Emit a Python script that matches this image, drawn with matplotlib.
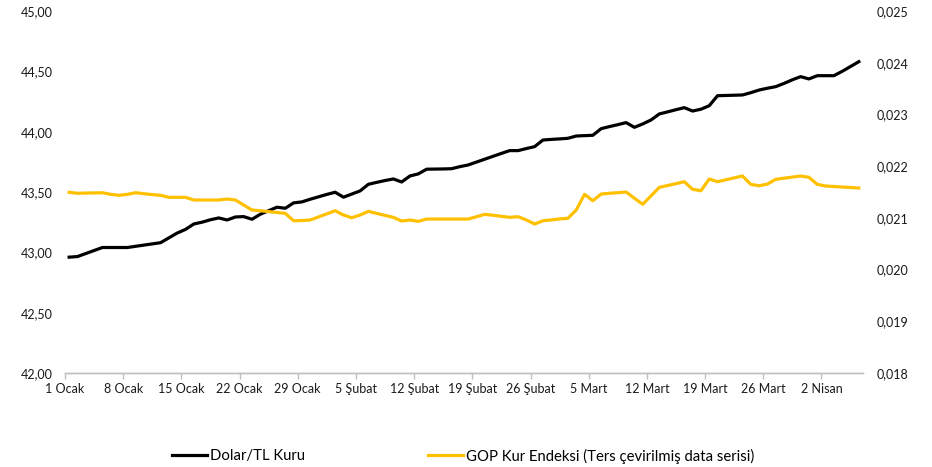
import numpy as np
import pandas as pd
import matplotlib
matplotlib.use("Agg")
import matplotlib.pyplot as plt
import matplotlib.dates as mdates
from matplotlib.ticker import FixedLocator, FuncFormatter

plt.rcParams['font.family'] = ['Lato', 'DejaVu Sans']

start_date = "2026-01-01"
n_days = 96

dolar_tl = [
    42.960, 42.965, 42.990, 43.015, 43.040, 43.040, 43.040, 43.040, 43.050, 43.060,
    43.070, 43.080, 43.120, 43.160, 43.190, 43.235, 43.250, 43.270, 43.285, 43.268,
    43.293, 43.296, 43.274, 43.316, 43.345, 43.374, 43.365, 43.410, 43.418, 43.440,
    43.460, 43.480, 43.498, 43.457, 43.483, 43.509, 43.564, 43.580, 43.595, 43.608,
    43.583, 43.633, 43.650, 43.689, 43.690, 43.691, 43.693, 43.710, 43.724, 43.748,
    43.772, 43.796, 43.820, 43.843, 43.843, 43.860, 43.876, 43.931, 43.936, 43.940,
    43.945, 43.964, 43.967, 43.970, 44.025, 44.042, 44.058, 44.075, 44.036, 44.064,
    44.097, 44.147, 44.164, 44.182, 44.199, 44.171, 44.186, 44.215, 44.298, 44.300,
    44.302, 44.304, 44.323, 44.345, 44.360, 44.373, 44.400, 44.430, 44.456, 44.437,
    44.464, 44.464, 44.464, 44.500, 44.540, 44.580,
]

gop_kur = [
    0.021494, 0.021475, 0.021479, 0.021482, 0.021486, 0.021455, 0.021436, 0.021455, 0.021486, 0.021467,
    0.021450, 0.021436, 0.021397, 0.021397, 0.021397, 0.021345, 0.021345, 0.021345, 0.021345, 0.021364,
    0.021345, 0.021248, 0.021151, 0.021138, 0.021121, 0.021104, 0.021087, 0.020944, 0.020948, 0.020958,
    0.021018, 0.021078, 0.021138, 0.021055, 0.021002, 0.021055, 0.021126, 0.021086, 0.021048, 0.021010,
    0.020939, 0.020958, 0.020933, 0.020977, 0.020977, 0.020977, 0.020977, 0.020977, 0.020977, 0.021022,
    0.021068, 0.021050, 0.021030, 0.021010, 0.021022, 0.020960, 0.020881, 0.020944, 0.020960, 0.020980,
    0.020991, 0.021151, 0.021455, 0.021331, 0.021461, 0.021475, 0.021487, 0.021499, 0.021380, 0.021262,
    0.021426, 0.021590, 0.021626, 0.021662, 0.021699, 0.021552, 0.021525, 0.021751, 0.021699, 0.021736,
    0.021773, 0.021810, 0.021648, 0.021621, 0.021654, 0.021745, 0.021767, 0.021788, 0.021810, 0.021784,
    0.021648, 0.021616, 0.021606, 0.021596, 0.021587, 0.021577,
]

tick_labels = ["1 Ocak", "8 Ocak", "15 Ocak", "22 Ocak", "29 Ocak", "5 Şubat",
               "12 Şubat", "19 Şubat", "26 Şubat", "5 Mart", "12 Mart", "19 Mart",
               "26 Mart", "2 Nisan"]

left_ticks = [42.0, 42.5, 43.0, 43.5, 44.0, 44.5, 45.0]
right_ticks = [0.018, 0.019, 0.020, 0.021, 0.022, 0.023, 0.024, 0.025]

label_black = "Dolar/TL Kuru"
label_gold = "GOP Kur Endeksi (Ters çevirilmiş data serisi)"

dates = pd.date_range(start_date, periods=n_days, freq="D")
# Excel-style: points placed in the middle of each day category
xpos = mdates.date2num(dates) + 0.5
tick_pos = mdates.date2num(dates[::7][:len(tick_labels)])

fig = plt.figure(figsize=(9.32, 4.67), dpi=100)
ax = fig.add_axes([65/932, 1-373/467, (863-65)/932, (373-11)/467])
ax2 = ax.twinx()

l1, = ax.plot(xpos, dolar_tl, color="#000000", lw=2.3, solid_joinstyle="round")
l2, = ax2.plot(xpos, gop_kur, color="#FFC000", lw=2.3, solid_joinstyle="round")

ax.set_xlim(mdates.date2num(dates[0]), mdates.date2num(dates[-1]) + 1)
ax.set_ylim(42.0, 45.0)
ax2.set_ylim(0.018, 0.025)

ax.xaxis.set_major_locator(FixedLocator(tick_pos))
ax.set_xticklabels(tick_labels)
ax.yaxis.set_major_locator(FixedLocator(left_ticks))
ax.yaxis.set_major_formatter(FuncFormatter(lambda v, p: f"{v:.2f}".replace(".", ",")))
ax2.yaxis.set_major_locator(FixedLocator(right_ticks))
ax2.yaxis.set_major_formatter(FuncFormatter(lambda v, p: f"{v:.3f}".replace(".", ",")))

for a in (ax, ax2):
    for s in ("top", "left", "right"):
        a.spines[s].set_visible(False)
    a.spines["bottom"].set_color("#BFBFBF")
    a.spines["bottom"].set_linewidth(1.0)

ax.tick_params(axis="x", length=4, width=1, color="#BFBFBF", labelsize=9, pad=3, labelcolor="#1a1a1a")
ax.tick_params(axis="y", length=0, labelsize=9, pad=9, labelcolor="#1a1a1a")
ax2.tick_params(axis="y", length=0, labelsize=9, pad=10, labelcolor="#1a1a1a")

leg_kw = dict(loc="center left", frameon=False, fontsize=10.7, handlelength=2.35,
              handletextpad=0.2, borderpad=0, borderaxespad=0)
leg1 = fig.legend([l1], [label_black], bbox_to_anchor=(172/932, 1-456/467), **leg_kw)
leg2 = fig.legend([l2], [label_gold], bbox_to_anchor=(428/932, 1-456/467), **leg_kw)

fig.savefig("out.png", dpi=100)
